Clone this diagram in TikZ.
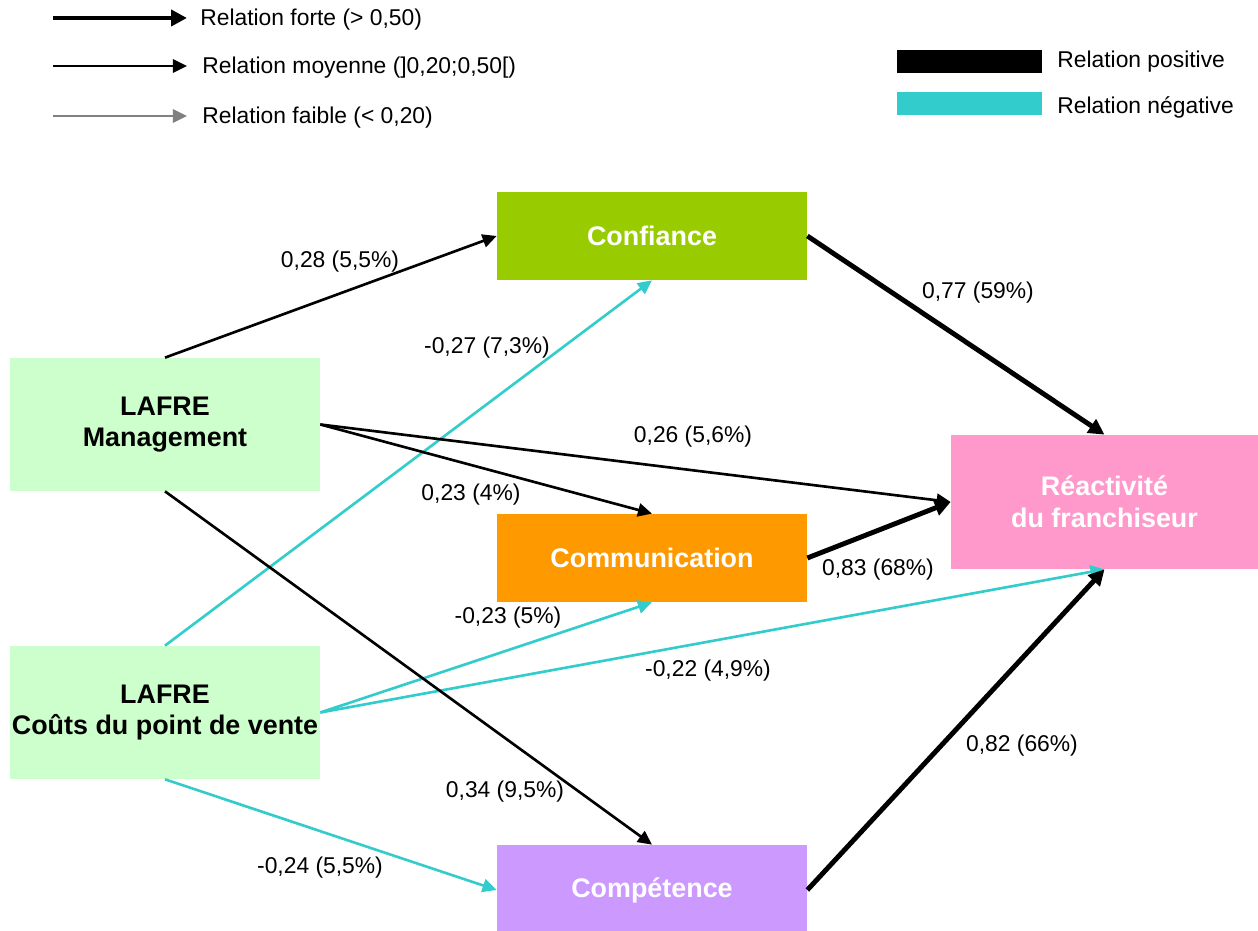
\documentclass[tikz,border=0pt]{standalone}
\usepackage{fontspec}
\setmainfont{Liberation Sans}
\usetikzlibrary{arrows.meta}

\definecolor{vertpomme}{HTML}{99CC00}
\definecolor{orange}{HTML}{FF9900}
\definecolor{mauve}{HTML}{CC99FF}
\definecolor{rose}{HTML}{FF99CC}
\definecolor{vertclair}{HTML}{CCFFCC}
\definecolor{turquoise}{HTML}{33CCCC}
\definecolor{gris}{HTML}{808080}

\begin{document}
\begin{tikzpicture}[
  boite/.style={rectangle, inner sep=0pt, minimum width=6.2cm, minimum height=1.76cm,
    font=\fontsize{15.3}{18}\selectfont\bfseries, text=white, align=center},
  lafre/.style={boite, fill=vertclair, minimum height=2.66cm, text=black},
  forte/.style={line width=2.8pt, -{Triangle[length=9pt,width=9pt]}},
  moyenne/.style={line width=1.5pt, -{Triangle[length=8pt,width=7.5pt]}},
  faible/.style={moyenne, color=gris},
  negative/.style={moyenne, color=turquoise},
  poids/.style={font=\fontsize{13}{15}\selectfont, inner sep=1pt},
  legende/.style={font=\fontsize{13}{15}\selectfont, anchor=west, inner sep=0pt}
]

\useasboundingbox (0,0) rectangle (25.16,18.62);

% legende
\coordinate (L1a) at (1.06, 18.26);
\coordinate (L1b) at (3.74, 18.26);
\coordinate (L2a) at (1.06, 17.30);
\coordinate (L2b) at (3.74, 17.30);
\coordinate (L3a) at (1.06, 16.30);
\coordinate (L3b) at (3.74, 16.30);

\draw[forte] (L1a) -- (L1b);
\draw[moyenne] (L2a) -- (L2b);
\draw[faible] (L3a) -- (L3b);

\node[legende] (txtforte) at (4.0, 18.22) {Relation forte (> 0,50)};
\node[legende] (txtmoyenne) at (4.04, 17.26) {Relation moyenne (]0,20;0,50[)};
\node[legende] (txtfaible) at (4.04, 16.26) {Relation faible (< 0,20)};

\fill[black] (17.94, 17.16) rectangle (20.84, 17.62);
\fill[turquoise] (17.94, 16.32) rectangle (20.84, 16.78);
\node[legende] (txtpos) at (21.14, 17.38) {Relation positive};
\node[legende] (txtneg) at (21.14, 16.48) {Relation négative};

% boites
\node[boite, fill=vertpomme] (conf) at (13.04, 13.90) {Confiance};
\node[boite, fill=orange] (comm) at (13.04, 7.46) {Communication};
\node[boite, fill=mauve, minimum height=1.8cm] (comp) at (13.04, 0.82) {Compétence};
\node[boite, fill=rose, minimum width=6.14cm, minimum height=2.68cm] (reac) at (22.09, 8.58) {Réactivité\\du franchiseur};
\node[lafre] (mgmt) at (3.3, 10.13) {LAFRE\\Management};
\node[lafre] (couts) at (3.3, 4.37) {LAFRE\\Coûts du point de vente};

% relations
\draw[moyenne] (mgmt.north) -- (conf.west);
\draw[negative] (couts.north) -- (conf.south);
\draw[forte] (conf.east) -- (reac.north);
\draw[moyenne] (mgmt.east) -- (reac.west);
\draw[moyenne] (mgmt.east) -- (comm.north);
\draw[forte] (comm.east) -- (reac.west);
\draw[negative] (couts.east) -- (comm.south);
\draw[negative] (couts.east) -- (reac.south);
\draw[moyenne] (mgmt.south) -- (comp.north);
\draw[negative] (couts.south) -- (comp.west);
\draw[forte] (comp.east) -- (reac.south);

% coefficients
\node[poids] (p1) at (6.80, 13.38) {0,28 (5,5\%)};
\node[poids] (p2) at (9.74, 11.66) {-0,27 (7,3\%)};
\node[poids] (p3) at (19.56, 12.76) {0,77 (59\%)};
\node[poids] (p4) at (13.86, 9.88) {0,26 (5,6\%)};
\node[poids] (p5) at (9.42, 8.72) {0,23 (4\%)};
\node[poids] (p6) at (17.56, 7.22) {0,83 (68\%)};
\node[poids] (p7) at (10.16, 6.26) {-0,23 (5\%)};
\node[poids] (p8) at (14.16, 5.20) {-0,22 (4,9\%)};
\node[poids] (p9) at (10.10, 2.78) {0,34 (9,5\%)};
\node[poids] (p10) at (6.40, 1.26) {-0,24 (5,5\%)};
\node[poids] (p11) at (20.44, 3.70) {0,82 (66\%)};

\end{tikzpicture}
\end{document}
